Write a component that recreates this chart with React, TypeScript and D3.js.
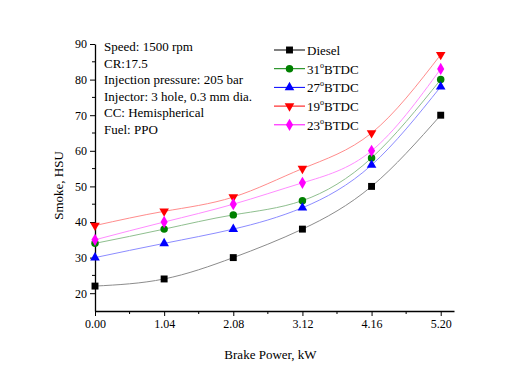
import { useEffect, useRef } from "react";
import * as d3 from "d3";

const power = [0, 1.04, 2.08, 3.12, 4.16, 5.2];
const diesel = [22, 24, 30, 38, 50, 70];
const btdc31 = [34, 38, 42, 46, 58, 80];
const btdc27 = [30, 34, 38, 44, 56, 78];
const btdc19 = [39, 43, 47, 55, 65, 87];
const btdc23 = [35, 40, 45, 51, 60, 83];
const xTicks = [0, 1.04, 2.08, 3.12, 4.16, 5.2];
const yTicks = [20, 30, 40, 50, 60, 70, 80, 90];
const notes = [
  "Speed: 1500 rpm",
  "CR:17.5",
  "Injection pressure: 205 bar",
  "Injector: 3 hole, 0.3 mm dia.",
  "CC: Hemispherical",
  "Fuel: PPO",
];

const series = [
  { name: "Diesel", deg: "", values: diesel, color: "#000000", fit: "#8c8c8c", symbol: d3.symbolSquare, size: 48 },
  { name: "31", deg: "BTDC", values: btdc31, color: "#008000", fit: "#8fbf8f", symbol: d3.symbolCircle, size: 44 },
  { name: "27", deg: "BTDC", values: btdc27, color: "#0000ff", fit: "#8c8cff", symbol: d3.symbolTriangle, size: 40, rot: 0 },
  { name: "19", deg: "BTDC", values: btdc19, color: "#ff0000", fit: "#ff8c8c", symbol: d3.symbolTriangle, size: 40, rot: 180 },
  { name: "23", deg: "BTDC", values: btdc23, color: "#ff00ff", fit: "#ff8cff", symbol: d3.symbolDiamond, size: 44 },
];

export default function App() {
  const svgRef = useRef<SVGSVGElement>(null);

  useEffect(() => {
    const width = 517;
    const height = 366;
    const margin = { top: 44, right: 63, bottom: 55, left: 95 };
    const innerWidth = width - margin.left - margin.right;
    const innerHeight = height - margin.top - margin.bottom;

    const svg = d3.select(svgRef.current);
    svg.selectAll("*").remove();
    svg.attr("width", width).attr("height", height);

    const x = d3.scaleLinear().domain([0, 5.4]).range([0, innerWidth]);
    const y = d3.scaleLinear().domain([15, 90]).range([innerHeight, 0]);

    const g = svg.append("g").attr("transform", `translate(${margin.left},${margin.top})`);
    const font = "'Liberation Serif', 'Times New Roman', serif";

    // smooth trend curves through each series
    const line = d3
      .line<number>()
      .x((_, i) => x(power[i]))
      .y((d) => y(d))
      .curve(d3.curveNatural);

    series.forEach((s) => {
      g.append("path")
        .attr("d", line(s.values))
        .attr("fill", "none")
        .attr("stroke", s.fit)
        .attr("stroke-width", 1);
    });

    // axes
    const xMinor = d3.range(0.52, 5.4, 1.04);
    const yMinor = d3.range(25, 90, 10);
    const xAxis = g.append("g").attr("transform", `translate(0,${innerHeight})`);
    xAxis
      .call(d3.axisBottom(x).tickValues(xTicks).tickFormat(d3.format(".2f")).tickSize(5).tickSizeOuter(0))
      .attr("font-size", 12)
      .attr("font-family", font);
    xAxis.selectAll(".tick text").attr("y", 8);
    xAxis
      .selectAll(".minor")
      .data(xMinor)
      .join("line")
      .attr("x1", (d) => x(d))
      .attr("x2", (d) => x(d))
      .attr("y1", 0)
      .attr("y2", 3)
      .attr("stroke", "#000");

    const yAxis = g.append("g");
    yAxis
      .call(d3.axisLeft(y).tickValues(yTicks).tickSize(5).tickSizeOuter(0))
      .attr("font-size", 12)
      .attr("font-family", font);
    yAxis
      .selectAll(".minor")
      .data(yMinor)
      .join("line")
      .attr("x1", 0)
      .attr("x2", -3)
      .attr("y1", (d) => y(d))
      .attr("y2", (d) => y(d))
      .attr("stroke", "#000");
    g.selectAll(".domain").attr("stroke-width", 1.3);

    g.append("text")
      .attr("x", innerWidth / 2 - 4)
      .attr("y", innerHeight + 48)
      .attr("text-anchor", "middle")
      .attr("font-size", 13)
      .attr("font-family", font)
      .text("Brake Power, kW");

    g.append("text")
      .attr("transform", "rotate(-90)")
      .attr("x", -innerHeight / 2 - 8)
      .attr("y", -32)
      .attr("text-anchor", "middle")
      .attr("font-size", 13)
      .attr("font-family", font)
      .text("Smoke, HSU");

    // markers
    series.forEach((s) => {
      g.selectAll(null)
        .data(s.values)
        .join("path")
        .attr("d", d3.symbol().type(s.symbol).size(s.size)())
        .attr("transform", (d, i) => `translate(${x(power[i])},${y(d)}) rotate(${s.rot ?? 0})`)
        .attr("fill", s.color);
    });

    // notes
    const nt = svg.append("text").attr("font-size", 13).attr("font-family", font);
    notes.forEach((n, i) => {
      nt.append("tspan").attr("x", 104).attr("y", 51 + i * 16.6).text(n);
    });

    // legend
    const lg = svg.append("g").attr("transform", "translate(274,50)");
    series.forEach((s, i) => {
      const row = lg.append("g").attr("transform", `translate(0,${i * 18.7})`);
      row.append("line").attr("x1", 0).attr("x2", 31).attr("stroke", s.color).attr("stroke-width", 1);
      row
        .append("path")
        .attr("d", d3.symbol().type(s.symbol).size(s.size)())
        .attr("transform", `translate(15.5,0) rotate(${s.rot ?? 0})`)
        .attr("fill", s.color);
      const t = row.append("text").attr("x", 33).attr("y", 5).attr("font-size", 13).attr("font-family", font);
      t.append("tspan").text(s.name);
      if (s.deg) {
        t.append("tspan").attr("font-size", 8).attr("dy", -6).text("o");
        t.append("tspan").attr("dy", 6).text(s.deg);
      }
    });
  }, []);

  return (
    <>
      <style>{`body{margin:0;background:#fff}`}</style>
      <svg ref={svgRef} style={{ display: "block" }} />
    </>
  );
}
